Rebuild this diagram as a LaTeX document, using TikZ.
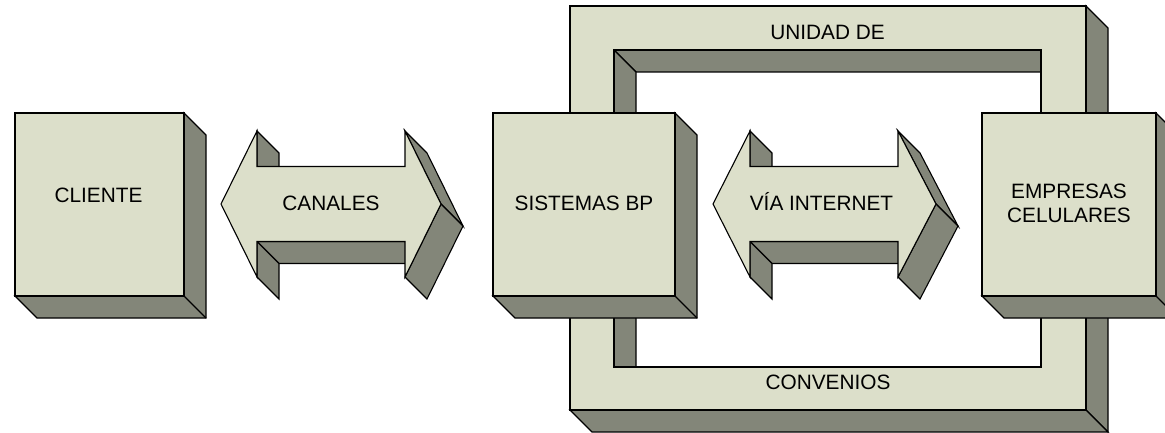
\documentclass[tikz,border=0pt]{standalone}
\usepackage{fontspec}
\setmainfont{Liberation Sans}
\usetikzlibrary{calc}

\definecolor{faceclr}{HTML}{DCDFCA}
\definecolor{sideclr}{HTML}{838679}

\tikzset{
  front/.style={fill=faceclr, draw=black, line width=1.1pt, inner sep=0pt},
  side/.style={fill=sideclr, draw=black, line width=1.1pt},
  lbl/.style={font=\fontsize{20.8}{24.5}\selectfont, inner sep=0pt, anchor=base},
}

% extruded face of one edge, depth 22 towards the lower right
\newcommand\sidequad[2]{%
  \draw[side] (#1) -- (#2) -- ($(#2)+(22,22)$) -- ($(#1)+(22,22)$) -- cycle;}

% 3-D box: name, centre x, centre y, width, height
\newcommand\solidbox[5]{%
  \draw[side] ($(#2,#3)+(#4/2,-#5/2)$) -- ++(22,22) -- ++(0,#5) -- ++(-#4,0)
              -- ++(-22,-22) -- ++(#4,0) -- cycle;
  \draw[side] ($(#2,#3)+(#4/2,#5/2)$) -- ++(22,22);
  \node[front, minimum width=#4pt, minimum height=#5pt] (#1) at (#2,#3) {};}

% 3-D double arrow: left tip, left head base, right head base, right tip, centre y
% (shaft faces first, so the right head's faces lie over them)
\newcommand\blockarrow[5]{%
  \sidequad{#3,#5+37.5}{#2,#5+37.5}
  \sidequad{#2,#5+37.5}{#2,#5+73}
  \sidequad{#2,#5-73}{#2,#5-37.5}
  \sidequad{#3,#5-73}{#4,#5}
  \sidequad{#4,#5}{#3,#5+73}
  \draw[front] (#1,#5) -- (#2,#5-73) -- (#2,#5-37.5) -- (#3,#5-37.5)
     -- (#3,#5-73) -- (#4,#5) -- (#3,#5+73) -- (#3,#5+37.5)
     -- (#2,#5+37.5) -- (#2,#5+73) -- cycle;}

\begin{document}
\begin{tikzpicture}[x=1pt, y=-1pt]
\useasboundingbox (0,0) rectangle (1165,433);
\clip (0,0) rectangle (1165,433);

% ring linking the two systems
\sidequad{614,50}{1041,50}
\sidequad{614,367}{614,50}
\sidequad{1086,6}{1086,410}
\sidequad{570,410}{1086,410}
\draw[front, even odd rule] (570,6) rectangle (1086,410) (614,50) rectangle (1041,367);
\node[lbl] (unidad) at (827.5,40) {UNIDAD DE};
\node[lbl] (convenios) at (828,389) {CONVENIOS};

% boxes
\solidbox{cliente}{99.5}{204.5}{169}{183}
\solidbox{sistemas}{584}{204.5}{182}{183}
\solidbox{empresas}{1069}{204.5}{174}{183}
\node[lbl] (clienteTxt) at (98.5,202) {CLIENTE};
\node[lbl] (sistemasTxt) at (584,211) {SISTEMAS BP};
\node[lbl, anchor=north, align=center] (empresasTxt) at (1069,183.3) {EMPRESAS\\CELULARES};

% double arrows between the boxes
\blockarrow{221}{257}{405}{441}{204}
\node[lbl] (canales) at (331,211) {CANALES};
\blockarrow{713}{750}{898}{936}{204}
\node[lbl] (internet) at (821.5,211) {VÍA INTERNET};
\end{tikzpicture}
\end{document}
